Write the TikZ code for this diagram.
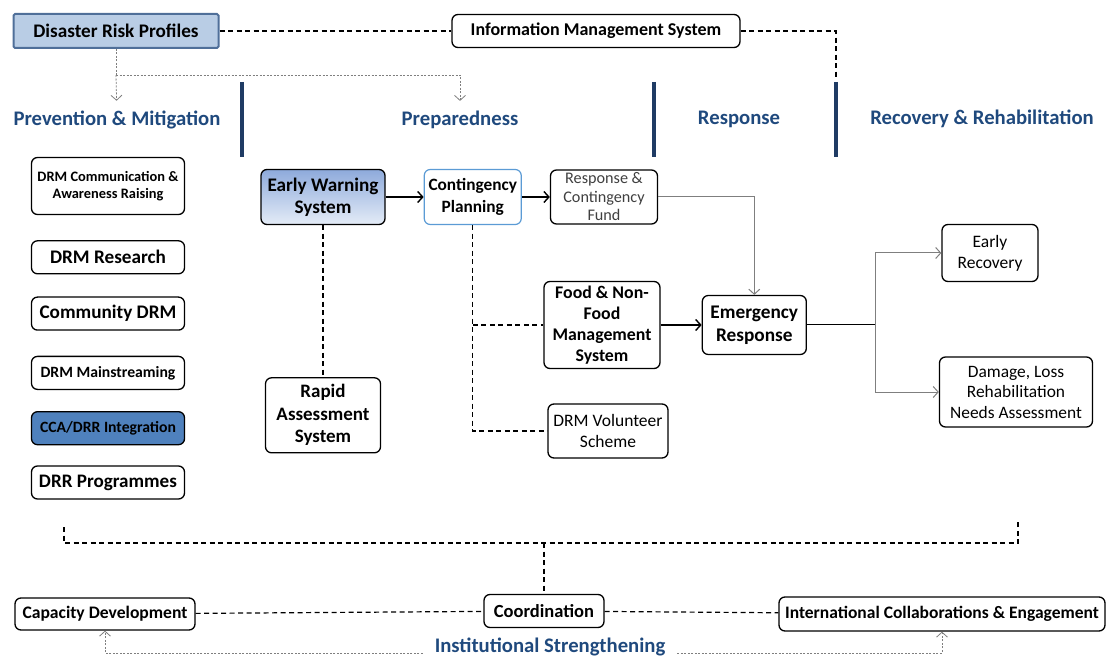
\documentclass[tikz,border=0pt]{standalone}
\usepackage{fontspec}
\setmainfont{Carlito}
\usetikzlibrary{arrows.meta,positioning}

\definecolor{headblue}{HTML}{1F497D}
\definecolor{barblue}{HTML}{1F3B64}
\definecolor{drpfill}{HTML}{B9CDE5}
\definecolor{drpedge}{HTML}{4F6F99}
\definecolor{ccafill}{HTML}{4F81BD}
\definecolor{cpedge}{HTML}{5B9BD5}
\definecolor{ewstop}{HTML}{8EAADB}
\definecolor{ewsbot}{HTML}{E4ECF7}
\definecolor{linegray}{HTML}{7F7F7F}
\definecolor{rcftext}{HTML}{404040}

\newcommand{\fs}[2]{\fontsize{#1}{#2}\selectfont}

\begin{document}
\begin{tikzpicture}[x=1pt,y=-1pt,>={Straight Barb[length=5pt,width=11pt]},
    box/.style={draw,rounded corners=6pt,line width=1.3pt,align=center,inner sep=1pt,fill=white},
    col/.style={box,minimum width=153pt,minimum height=33pt},
    phase head/.style={text=headblue,font=\bfseries\fs{20.7}{24},inner sep=2pt},
    phase bar/.style={draw=barblue,line width=4pt},
    dash line/.style={dash pattern=on 5pt off 3.5pt,line width=1.2pt},
    dot line/.style={draw=linegray,dash pattern=on 2pt off 1.5pt,line width=0.8pt},
    dot arrow/.style={dot line,->},
    flow/.style={->,line width=1.4pt},
    grey flow/.style={->,draw=linegray,line width=1pt}]

  \useasboundingbox (0,0) rectangle (1106,660);

  % top row
  \node[box,fill=drpfill,draw=drpedge,rounded corners=1.5pt,line width=2pt,minimum width=205pt,minimum height=34pt,font=\bfseries\fs{19.2}{22}] (drp) at (116,31) {Disaster Risk Profiles};
  \node[box,minimum width=288pt,minimum height=33pt,font=\bfseries\fs{18}{21}] (ims) at (596,31) {Information Management System};

  % phases
  \node[phase head] (pm) at (117,120) {Prevention \& Mitigation};
  \node[phase head] (prep) at (460,120) {Preparedness};
  \node[phase head] (resp) at (739,119) {Response};
  \node[phase head] (rec) at (982,119) {Recovery \& Rehabilitation};
  \coordinate (b3t) at (836,80);
  \draw[phase bar] (242,82) -- (242,157);
  \draw[phase bar] (654,82) -- (654,157);
  \draw[phase bar] (836,82) -- (836,157);

  % prevention column
  \node[col,minimum height=57pt,font=\bfseries\fs{14.4}{17}] (comm) at (108,186) {DRM Communication \&\\Awareness Raising};
  \node[col,font=\bfseries\fs{19.2}{22}] (res) [below=25pt of comm] {DRM Research};
  \node[col,font=\bfseries\fs{19.2}{22}] (cdrm) [below=22pt of res] {Community DRM};
  \node[col,font=\bfseries\fs{15.7}{18}] (main) [below=25pt of cdrm] {DRM Mainstreaming};
  \node[col,fill=ccafill,font=\bfseries\fs{15.7}{18}] (cca) [below=21pt of main] {CCA/DRR Integration};
  \node[col,font=\bfseries\fs{19.1}{22}] (drr) [below=20pt of cca] {DRR Programmes};

  % preparedness and response
  \node[box,minimum width=124pt,minimum height=55pt,top color=ewstop,bottom color=ewsbot,font=\bfseries\fs{19.2}{22}] (ews) at (323,197) {Early Warning\\System};
  \node[box,draw=cpedge,line width=1.2pt,minimum width=97pt,minimum height=55pt,font=\bfseries\fs{17.3}{22}] (cp) [right=38pt of ews] {Contingency\\Planning};
  \node[box,minimum width=107pt,minimum height=54pt,text=rcftext,font=\fs{16.2}{18.5}] (rcf) [right=28pt of cp] {Response \&\\Contingency\\Fund};
  \node[box,minimum width=115pt,minimum height=75pt,font=\bfseries\fs{19}{22.5}] (ras) [below=152pt of ews] {Rapid\\Assessment\\System};
  \node[box,minimum width=116pt,minimum height=87pt,font=\bfseries\fs{17.8}{21}] (fnf) at (602,325) {Food \& Non-\\Food\\Management\\System};
  \node[box,minimum width=104pt,minimum height=59pt,font=\bfseries\fs{19.3}{23}] (er) [right=41pt of fnf] {Emergency\\Response};
  \node[box,minimum width=120pt,minimum height=54pt,font=\fs{17.5}{21}] (vol) at (608,431) {DRM Volunteer\\Scheme};

  % recovery
  \node[box,minimum width=96pt,minimum height=57pt,font=\fs{17.5}{21}] (erec) at (990,253) {Early\\Recovery};
  \node[box,minimum width=153pt,minimum height=70pt,font=\fs{17.4}{20.5}] (dlr) at (1016,392) {Damage, Loss\\Rehabilitation\\Needs Assessment};

  % institutional strengthening
  \node[box,minimum width=180pt,minimum height=32pt,font=\bfseries\fs{17.6}{20}] (cd) at (105,614) {Capacity Development};
  \node[box,minimum width=120pt,minimum height=33pt,font=\bfseries\fs{18.5}{21}] (coord) at (544,611) {Coordination};
  \node[box,minimum width=326pt,minimum height=34pt,font=\bfseries\fs{17.5}{20}] (ice) at (942,614) {International Collaborations \& Engagement};
  \node[phase head] (inst) at (550,647) {Institutional Strengthening};

  % links
  \coordinate (fork) at (116,75);
  \draw[dash line] (drp) -- (ims);
  \draw[dash line] (ims) -| (b3t);
  \draw[dot line] (drp) -- (fork);
  \draw[dot arrow,shorten >=8pt] (fork) -- (pm);
  \draw[dot arrow,shorten >=8pt] (fork) -| (prep);

  \draw[flow] (ews) -- (cp);
  \draw[flow] (cp) -- (rcf);
  \draw[flow] (fnf) -- (er);
  \draw[grey flow] (rcf) -| (er);
  \coordinate (split) at (875,325);
  \draw[line width=1pt] (er) -- (split);
  \draw[grey flow] (split) |- (erec);
  \draw[grey flow] (split) |- (dlr);

  \draw[dash line] (ews) -- (ras);
  \draw[dash line] (cp) -- (cp |- vol) -- (vol);
  \draw[dash line] (cp |- fnf) -- (fnf);

  \coordinate (brl) at (64,527);
  \coordinate (brr) at (1018,522);
  \coordinate (brm) at (544,543);
  \draw[dash line] (brl) |- (brm) -| (brr);
  \draw[dash line] (brm) -- (coord);
  \draw[dash line] (cd) -- (coord);
  \draw[dash line] (coord) -- (ice);
  \draw[dot arrow,shorten <=10pt] ([yshift=-6pt]inst.west) -| (cd);
  \draw[dot arrow,shorten <=10pt] ([yshift=-6pt]inst.east) -| (ice);

\end{tikzpicture}
\end{document}
